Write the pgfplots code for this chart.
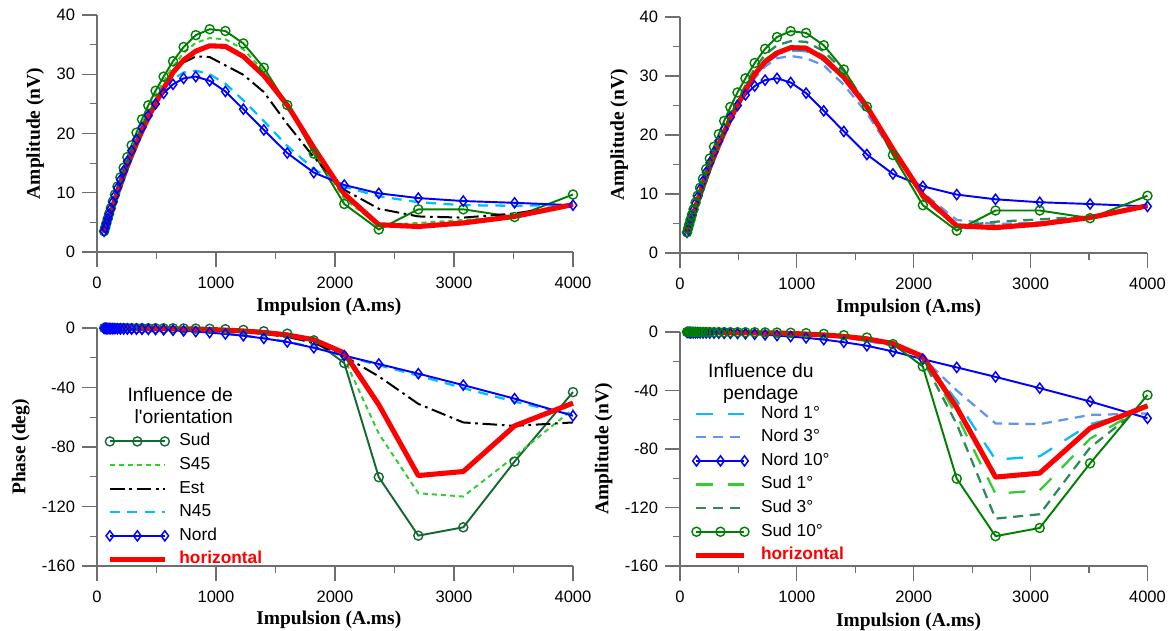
\documentclass[border=0pt]{standalone}
\usepackage{fontspec}
\setmainfont{Liberation Sans}
\newfontfamily\labelfont{Liberation Serif}
\usepackage{pgfplots}
\usepackage{pgfplotstable}
\pgfplotsset{compat=1.18}

\definecolor{cSud}{RGB}{0,128,0}
\definecolor{cSudDark}{RGB}{20,105,50}
\definecolor{cS45}{RGB}{50,205,50}
\definecolor{cN45}{RGB}{0,191,255}
\definecolor{cNord}{RGB}{0,0,255}
\definecolor{cN3}{RGB}{100,149,237}
\definecolor{cS3}{RGB}{46,139,87}
\definecolor{axgray}{RGB}{110,110,110}

% amplitude, orientation
\pgfplotstableread{
x sud s45 est n45 nord hor
60 3.50 3.40 3.40 3.50 3.50 3.20
69 4.14 4.00 3.95 4.10 4.10 3.70
79 4.85 4.70 4.60 4.80 4.80 4.30
90 5.62 5.45 5.30 5.60 5.60 5.00
102 6.45 6.25 6.10 6.40 6.40 5.70
116 7.41 7.20 7.00 7.30 7.30 6.60
133 8.54 8.30 8.05 8.40 8.40 7.60
151 9.71 9.40 9.15 9.50 9.50 8.70
172 11.06 10.70 10.40 10.80 10.80 9.90
197 12.61 12.20 11.90 12.20 12.20 11.30
224 14.23 13.80 13.40 13.70 13.70 12.80
255 16.02 15.50 15.10 15.40 15.30 14.50
291 18.01 17.50 17.00 17.30 17.10 16.30
332 20.14 19.50 19.00 19.30 19.00 18.30
378 22.38 21.70 21.10 21.30 21.00 20.40
431 24.75 24.00 23.30 23.40 23.00 22.70
492 27.21 26.40 25.60 25.60 25.00 25.10
560 29.60 28.80 27.90 27.60 26.80 27.60
639 32.20 31.30 30.20 29.20 28.30 30.30
728 34.60 33.60 32.00 30.30 29.30 32.40
830 36.60 35.30 33.00 30.60 29.60 33.90
947 37.60 36.10 32.90 30.00 28.90 34.80
1079 37.30 35.90 31.50 28.40 27.10 34.70
1230 35.20 34.20 29.90 25.60 24.10 33.00
1402 31.10 30.50 27.00 22.10 20.60 29.80
1599 24.80 24.60 21.60 17.90 16.70 24.80
1822 16.60 17.00 16.00 14.00 13.40 17.60
2078 8.10 9.00 10.50 11.00 11.30 9.80
2368 3.80 4.50 7.30 9.40 9.90 4.60
2700 7.20 4.90 6.00 8.40 9.10 4.30
3078 7.20 5.40 5.80 7.90 8.60 4.90
3509 5.90 6.00 6.50 7.80 8.30 6.00
4000 9.70 8.10 8.00 7.90 7.90 8.00
}\ampA

% amplitude, dip
\pgfplotstableread{
x n1 n3 s1 s3
60 3.17 3.14 3.23 3.30
69 3.66 3.63 3.74 3.81
79 4.26 4.21 4.34 4.43
90 4.95 4.90 5.05 5.15
102 5.64 5.59 5.76 5.87
116 6.53 6.47 6.67 6.80
133 7.52 7.45 7.68 7.83
151 8.61 8.53 8.79 8.96
172 9.80 9.70 10.00 10.20
197 11.19 11.07 11.41 11.64
224 12.67 12.54 12.93 13.18
255 14.36 14.21 14.65 14.94
291 16.14 15.97 16.46 16.79
332 18.12 17.93 18.48 18.85
378 20.20 19.99 20.60 21.01
431 22.47 22.25 22.93 23.38
492 24.85 24.60 25.35 25.85
560 27.32 27.05 27.88 28.43
639 30.20 29.60 30.60 31.30
728 32.10 31.60 32.80 33.60
830 33.50 33.00 34.20 35.20
947 34.30 33.40 35.00 35.90
1079 34.20 33.00 35.00 35.80
1230 32.60 31.80 33.40 34.20
1402 29.40 28.50 30.20 30.80
1599 24.40 23.70 25.00 25.20
1822 17.40 16.90 17.80 17.60
2078 9.70 10.20 9.60 9.20
2368 4.80 5.60 4.40 4.50
2700 4.40 4.90 4.60 5.30
3078 4.90 5.20 5.10 5.70
3509 6.00 6.20 6.00 6.20
4000 8.00 8.00 8.10 8.20
}\ampB

% phase, orientation
\pgfplotstableread{
x sud s45 est n45 nord hor
60 0.0 0.0 -0.2 -0.3 -0.3 -0.1
69 0.0 0.0 -0.2 -0.3 -0.3 -0.1
79 0.0 0.0 -0.2 -0.35 -0.35 -0.1
90 0.0 0.0 -0.2 -0.4 -0.4 -0.1
102 0.0 0.0 -0.25 -0.4 -0.4 -0.1
116 0.0 -0.05 -0.25 -0.45 -0.45 -0.15
133 0.0 -0.05 -0.3 -0.5 -0.5 -0.15
151 -0.05 -0.05 -0.3 -0.5 -0.5 -0.15
172 -0.05 -0.1 -0.3 -0.55 -0.55 -0.2
197 -0.05 -0.1 -0.35 -0.6 -0.6 -0.2
224 -0.05 -0.1 -0.35 -0.65 -0.65 -0.2
255 -0.1 -0.1 -0.4 -0.7 -0.7 -0.25
291 -0.1 -0.15 -0.4 -0.75 -0.75 -0.25
332 -0.1 -0.15 -0.45 -0.8 -0.8 -0.3
378 -0.1 -0.15 -0.5 -0.85 -0.85 -0.3
431 -0.15 -0.2 -0.55 -0.9 -0.9 -0.35
492 -0.15 -0.2 -0.6 -1.0 -1.0 -0.35
560 -0.2 -0.25 -0.7 -1.2 -1.2 -0.4
639 -0.2 -0.3 -0.8 -1.5 -1.5 -0.5
728 -0.3 -0.35 -1.0 -1.9 -1.9 -0.6
830 -0.4 -0.45 -1.2 -2.3 -2.4 -0.7
947 -0.5 -0.6 -1.5 -3.0 -3.1 -1.0
1079 -0.8 -0.9 -2.0 -3.8 -4.0 -1.4
1230 -1.3 -1.4 -2.8 -5.0 -5.2 -2.0
1402 -2.2 -2.4 -4.0 -6.8 -7.0 -3.0
1599 -3.8 -4.2 -6.0 -9.2 -9.4 -4.7
1822 -8.3 -8.2 -10.0 -13.0 -13.3 -7.9
2078 -23.6 -20.5 -19.0 -18.8 -18.6 -16.8
2368 -100.3 -71.0 -32.5 -25.0 -24.2 -51.6
2700 -139.6 -111.1 -51.0 -32.0 -30.7 -99.2
3078 -134.0 -113.3 -63.5 -40.4 -38.4 -96.5
3509 -89.8 -86.4 -65.8 -49.5 -47.5 -65.8
4000 -43.1 -54.5 -63.5 -58.5 -59.0 -50.5
}\phaA

% phase, dip
\pgfplotstableread{
x n1 n3 s1 s3
60 -0.1 -0.15 -0.1 -0.1
69 -0.1 -0.15 -0.1 -0.1
79 -0.1 -0.15 -0.1 -0.1
90 -0.1 -0.15 -0.1 -0.1
102 -0.1 -0.15 -0.1 -0.1
116 -0.15 -0.2 -0.15 -0.15
133 -0.15 -0.2 -0.15 -0.15
151 -0.15 -0.2 -0.15 -0.15
172 -0.2 -0.25 -0.2 -0.2
197 -0.2 -0.25 -0.2 -0.2
224 -0.2 -0.25 -0.2 -0.2
255 -0.25 -0.3 -0.25 -0.25
291 -0.3 -0.35 -0.25 -0.25
332 -0.3 -0.4 -0.3 -0.3
378 -0.35 -0.4 -0.3 -0.3
431 -0.4 -0.45 -0.35 -0.35
492 -0.4 -0.5 -0.35 -0.35
560 -0.45 -0.5 -0.4 -0.4
639 -0.55 -0.65 -0.5 -0.45
728 -0.7 -0.8 -0.6 -0.55
830 -0.8 -0.9 -0.7 -0.65
947 -1.1 -1.3 -1.0 -0.9
1079 -1.5 -1.8 -1.3 -1.2
1230 -2.2 -2.6 -1.9 -1.8
1402 -3.3 -3.9 -2.9 -2.7
1599 -5.2 -6.1 -4.5 -4.2
1822 -8.4 -9.5 -7.8 -7.8
2078 -17.2 -17.8 -17.5 -19.0
2368 -47.0 -40.0 -57.0 -63.0
2700 -87.3 -62.5 -110.6 -127.6
3078 -85.0 -63.0 -108.3 -124.6
3509 -63.0 -56.7 -73.0 -79.0
4000 -53.0 -55.7 -50.0 -48.0
}\phaB

\pgfplotsset{
  base/.style={
    scale only axis,
    xmin=0, xmax=4000,
    axis lines=left,
    axis line style={-, draw=axgray, line width=0.9pt},
    tick align=outside,
    major tick length=11pt,
    minor tick length=5.5pt,
    tick style={draw=axgray, line width=0.9pt},
    xtick={0,1000,2000,3000,4000},
    minor x tick num=1,
    minor y tick num=1,
    scaled ticks=false,
    /pgf/number format/1000 sep={},
    /pgf/number format/assume math mode=true,
    tick label style={font=\fontsize{12.4}{14}\selectfont, text=black},
    xticklabel style={yshift=-4pt},
    yticklabel style={xshift=-2pt},
    label style={font=\labelfont\bfseries\fontsize{14.6}{16}\selectfont},
    xlabel={Impulsion (A.ms)},
    clip=false,
    legend cell align=left,
    legend image code/.code={\draw[##1] plot coordinates {(0pt,0pt) (20.6pt,0pt) (41.2pt,0pt)};},
  },
  amp/.style={ymin=0, ymax=40, ytick={0,10,20,30,40}},
  pha/.style={ymin=-160, ymax=0, ytick={-160,-120,-80,-40,0}},
  thin/.style={line width=1.45pt},
  sudm/.style={thin, mark=o, mark size=3.4pt, mark options={solid, line width=1.05pt}},
  nordm/.style={thin, mark=diamond, mark size=3.8pt, mark options={solid, line width=1.1pt}},
  horz/.style={red, line width=3.8pt, line join=round},
}

\begin{document}
\begin{tikzpicture}
\useasboundingbox (0,0) rectangle (879pt,473.25pt);

% ---------------- top left
\begin{axis}[base, amp, at={(72.75pt,284.25pt)}, anchor=south west,
  width=357pt, height=177.75pt,
  ylabel={Amplitude (nV)},
  ylabel style={at={(axis description cs:-0.130,0.5)}, anchor=center},
  xlabel style={at={(axis description cs:0.487,-0.232)}, anchor=center}]
\addplot[cSud, sudm] table[x=x,y=sud]{\ampA};
\addplot[cS45, line width=1.5pt, dash pattern=on 3.75pt off 3pt] table[x=x,y=s45]{\ampA};
\addplot[black, line width=1.5pt, dash pattern=on 11pt off 3.5pt on 2pt off 3.5pt] table[x=x,y=est]{\ampA};
\addplot[cN45, line width=1.7pt, dash pattern=on 7.5pt off 5.5pt] table[x=x,y=n45]{\ampA};
\addplot[cNord, nordm] table[x=x,y=nord]{\ampA};
\addplot[horz] table[x=x,y=hor]{\ampA};
\end{axis}

% ---------------- top right
\begin{axis}[base, amp, at={(510pt,283.5pt)}, anchor=south west,
  width=350.6pt, height=177pt,
  ylabel={Amplitude (nV)},
  ylabel style={at={(axis description cs:-0.130,0.5)}, anchor=center},
  xlabel style={at={(axis description cs:0.489,-0.233)}, anchor=center}]
\addplot[cN45, line width=1.7pt, dash pattern=on 12.5pt off 11pt] table[x=x,y=n1]{\ampB};
\addplot[cN3, line width=1.7pt, dash pattern=on 7.5pt off 5pt] table[x=x,y=n3]{\ampB};
\addplot[cNord, nordm] table[x=x,y=nord]{\ampA};
\addplot[cS45, line width=1.7pt, dash pattern=on 12.5pt off 11pt] table[x=x,y=s1]{\ampB};
\addplot[cS3, line width=1.7pt, dash pattern=on 7.5pt off 5pt] table[x=x,y=s3]{\ampB};
\addplot[cSud, sudm] table[x=x,y=sud]{\ampA};
\addplot[horz] table[x=x,y=hor]{\ampA};
\end{axis}

% ---------------- bottom left
\begin{axis}[base, pha, at={(72.75pt,48.75pt)}, anchor=south west,
  width=357pt, height=178.5pt,
  ylabel={Phase (deg)},
  ylabel style={at={(axis description cs:-0.160,0.5)}, anchor=center},
  xlabel style={at={(axis description cs:0.487,-0.227)}, anchor=center},
  legend style={at={(axis description cs:0.017,0.562)}, anchor=north west,
    draw=none, fill=none, inner sep=0pt, row sep=4.3pt, column sep=7.5pt,
    font=\fontsize{13}{15}\selectfont,
    nodes={inner sep=0pt, text height=10pt, text depth=3.4pt}}]
\addplot[cSudDark, sudm] table[x=x,y=sud]{\phaA};
\addlegendentry{Sud}
\addplot[cS45, line width=1.5pt, dash pattern=on 3.75pt off 3pt] table[x=x,y=s45]{\phaA};
\addlegendentry{S45}
\addplot[black, line width=1.5pt, dash pattern=on 11pt off 3.5pt on 2pt off 3.5pt] table[x=x,y=est]{\phaA};
\addlegendentry{Est}
\addplot[cN45, line width=1.7pt, dash pattern=on 7.5pt off 5.5pt] table[x=x,y=n45]{\phaA};
\addlegendentry{N45}
\addplot[cNord, nordm] table[x=x,y=nord]{\phaA};
\addlegendentry{Nord}
\addplot[horz] table[x=x,y=hor]{\phaA};
\addlegendentry{\textcolor{red}{\bfseries horizontal}}
\node[anchor=east, align=right, font=\fontsize{14.5}{16.5}\selectfont, inner sep=0pt]
  at (axis description cs:0.286,0.672) {Influence de\\l\textquotesingle orientation};
\end{axis}

% ---------------- bottom right
\begin{axis}[base, pha, at={(510pt,48.75pt)}, anchor=south west,
  width=350.6pt, height=175.5pt,
  ylabel={Amplitude (nV)},
  ylabel style={at={(axis description cs:-0.163,0.5)}, anchor=center},
  xlabel style={at={(axis description cs:0.489,-0.239)}, anchor=center},
  legend image code/.code={\draw[#1] plot coordinates {(0pt,0pt) (18pt,0pt) (36pt,0pt)};},
  legend style={at={(axis description cs:0.025,0.69)}, anchor=north west,
    draw=none, fill=none, inner sep=0pt, row sep=4.3pt, column sep=9pt,
    font=\fontsize{13}{15}\selectfont,
    nodes={inner sep=0pt, text height=10pt, text depth=3.4pt}}]
\addplot[cN45, line width=1.7pt, dash pattern=on 12.5pt off 11pt] table[x=x,y=n1]{\phaB};
\addlegendentry{Nord 1°}
\addplot[cN3, line width=1.7pt, dash pattern=on 7.5pt off 5pt] table[x=x,y=n3]{\phaB};
\addlegendentry{Nord 3°}
\addplot[cNord, nordm] table[x=x,y=nord]{\phaA};
\addlegendentry{Nord 10°}
\addplot[cS45, line width=1.7pt, dash pattern=on 12.5pt off 11pt] table[x=x,y=s1]{\phaB};
\addlegendentry{Sud 1°}
\addplot[cS3, line width=1.7pt, dash pattern=on 7.5pt off 5pt] table[x=x,y=s3]{\phaB};
\addlegendentry{Sud 3°}
\addplot[cSud, sudm] table[x=x,y=sud]{\phaA};
\addlegendentry{Sud 10°}
\addplot[horz] table[x=x,y=hor]{\phaA};
\addlegendentry{\textcolor{red}{\bfseries horizontal}}
\node[anchor=center, align=center, font=\fontsize{14.5}{16.5}\selectfont, inner sep=0pt]
  at (axis description cs:0.173,0.778) {Influence du\\pendage};
\end{axis}
\end{tikzpicture}
\end{document}
